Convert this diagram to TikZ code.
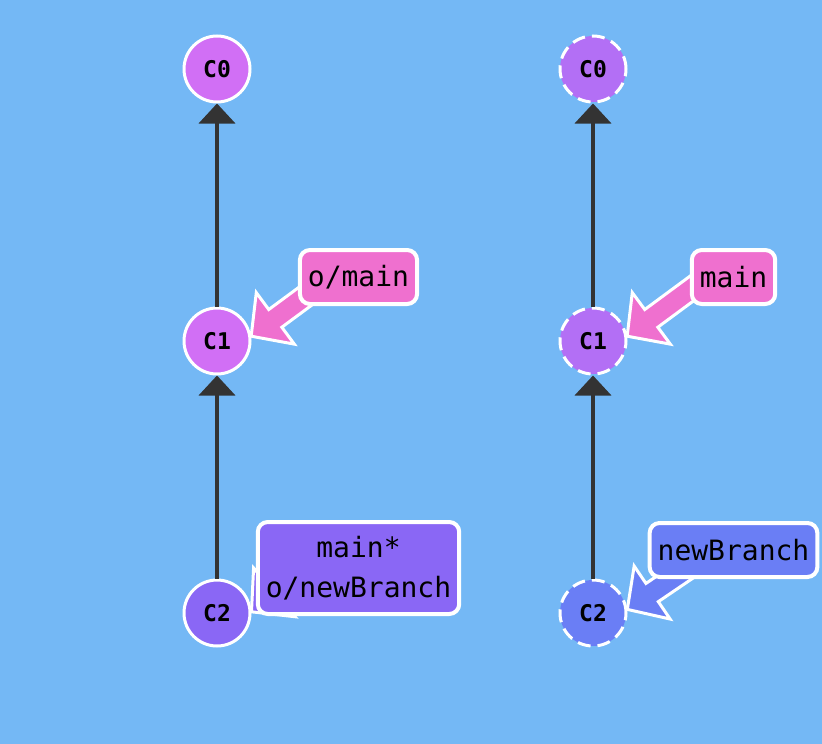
\documentclass[tikz,border=0pt]{standalone}
\usepackage{fontspec}
\setmonofont{DejaVu Sans Mono}
\usetikzlibrary{calc, arrows.meta}

\definecolor{bgblue}{HTML}{74B8F5}
\definecolor{edgegray}{HTML}{333333}
\definecolor{origincommit}{HTML}{D16FF5}
\definecolor{localcommit}{HTML}{B36FF5}
\definecolor{violetcommit}{HTML}{8A67F5}
\definecolor{bluecommit}{HTML}{6A7EF5}
\definecolor{mainpink}{HTML}{EF70CF}

\tikzset{
	commit/.style = {circle, draw = white, line width = 3pt, minimum size = 66pt, inner sep = 0pt,
		font = \ttfamily\bfseries\fontsize{23}{26}\selectfont},
	ghost/.style = {commit, dash pattern = on 13pt off 7pt},
	branch/.style = {draw = white, line width = 4pt, rounded corners = 10pt, inner xsep = 8pt,
		minimum height = 54pt, align = center, font = \ttfamily\fontsize{28}{40}\selectfont},
	commitedge/.style = {draw = edgegray, line width = 4pt, -{Triangle[width = 36pt, length = 20pt]}},
	labelarrow/.style = {draw = white, line width = 3pt, line join = miter},
}

% start, tip, colour
\newcommand{\pointer}[3]{
	\coordinate (ph) at ($(#2)!30pt!(#1)$);
	\filldraw [labelarrow, fill = #3]
		($(#1)!11pt!90:(#2)$) -- ($(ph)!11pt!90:(#2)$) -- ($(ph)!32pt!90:(#2)$) -- (#2)
		-- ($(ph)!32pt!-90:(#2)$) -- ($(ph)!11pt!-90:(#2)$) -- ($(#1)!11pt!-90:(#2)$) -- cycle;
}

\begin{document}
\begin{tikzpicture}[x = 1pt, y = -1pt]
	\fill [bgblue] (0,0) rectangle (822,744);

	% remote side
	\begin{scope}
		\node [commit, fill = origincommit] (lc0) at (217,69)  {C0};
		\node [commit, fill = origincommit] (lc1) at (217,341) {C1};
		\node [commit, fill = violetcommit] (lc2) at (217,613) {C2};

		\draw [commitedge] (lc1) -- (lc0);
		\draw [commitedge] (lc2) -- (lc1);
	\end{scope}

	% local side
	\begin{scope}
		\node [ghost, fill = localcommit] (rc0) at (593,69)  {C0};
		\node [ghost, fill = localcommit] (rc1) at (593,341) {C1};
		\node [ghost, fill = bluecommit]  (rc2) at (593,613) {C2};

		\draw [commitedge] (rc1) -- (rc0);
		\draw [commitedge] (rc2) -- (rc1);
	\end{scope}

	% branch labels
	\coordinate (omainfrom) at (330,278);
	\coordinate (mainnbfrom) at (330,545);
	\coordinate (mainfrom) at (706,278);
	\coordinate (newbranchfrom) at (706,556);

	\pointer{omainfrom}{lc1.8}{mainpink}
	\pointer{mainnbfrom}{lc2.2}{violetcommit}
	\pointer{mainfrom}{rc1.8}{mainpink}
	\pointer{newbranchfrom}{rc2.6}{bluecommit}

	\node [branch, fill = mainpink]     (omain)     at (358.5,277) {o/main};
	\node [branch, fill = violetcommit, minimum height = 92pt] (mainnb) at (358.5,568) {main*\\o/newBranch};
	\node [branch, fill = mainpink]     (main)      at (733.5,277) {main};
	\node [branch, fill = bluecommit]   (newbranch) at (733.5,550) {newBranch};
\end{tikzpicture}
\end{document}
